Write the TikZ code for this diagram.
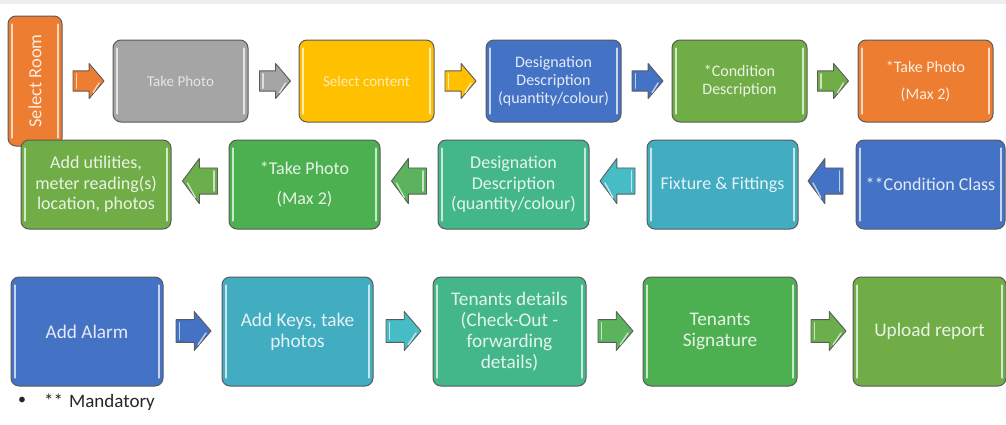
\documentclass[tikz,border=0pt]{standalone}
\usepackage{fontspec}
\setmainfont{Carlito}
\usetikzlibrary{calc}
\definecolor{cOrange}{HTML}{ED7D31}
\definecolor{cGrey}{HTML}{A5A5A5}
\definecolor{cYellow}{HTML}{FFC000}
\definecolor{cBlue}{HTML}{4472C4}
\definecolor{cGreen}{HTML}{70AD47}
\definecolor{cGreenB}{HTML}{4CAF50}
\definecolor{cSea}{HTML}{43B68A}
\definecolor{cTeal}{HTML}{42ACC1}
\definecolor{cTealA}{HTML}{46BDC6}
\definecolor{cGreenA}{HTML}{5BB35D}
\definecolor{cOlive}{HTML}{6BAE4C}
\definecolor{edge}{HTML}{5A5A5A}
\definecolor{band}{HTML}{EEEEEE}
\tikzset{
  x=1pt, y=-1pt,
  box/.style={draw=edge, line width=1pt, rounded corners=8pt, inner sep=0pt,
    align=center, text=white, text opacity=0.86},
  arrowline/.style={draw=edge, line width=0.9pt, line join=round},
  rowA/.style={font=\fontsize{16}{18}\selectfont},
  rowAs/.style={font=\fontsize{15}{18}\selectfont, text opacity=0.7},
  rowB/.style={font=\fontsize{18}{20.5}\selectfont},
  rowC/.style={font=\fontsize{19.3}{21}\selectfont},
}
% name, x1, y1, x2, y2, colour, options, text
\newcommand\mybox[8]{%
  \node[box, fill=#6, minimum width={#4-#2}, minimum height={#5-#3}, #7] (#1)
    at ({(#2+#4)/2},{(#3+#5)/2}) {#8};
  \draw[line width=2.6pt, #6!30!white, line cap=round]
    ($(#1.north west)+(4.5,9)$) -- ($(#1.south west)+(4.5,-9)$);
  \draw[line width=2.6pt, #6!30!white, line cap=round]
    ($(#1.north east)+(-4.5,9)$) -- ($(#1.south east)+(-4.5,-9)$);
}
% name, cx, cy, direction (1 right, -1 left), length, height, colour
\newcommand\barrow[7]{%
  \coordinate (#1) at (#2,#3);
  \begin{scope}[shift={(#1)}, xscale=#4]
    \draw[arrowline, fill=#7]
      ({-#5/2},{-0.29*#6}) -- ({0.02*#5},{-0.29*#6}) -- ({0.02*#5},{-#6/2})
      -- ({#5/2},0) -- ({0.02*#5},{#6/2}) -- ({0.02*#5},{0.29*#6})
      -- ({-#5/2},{0.29*#6}) -- cycle;
    \draw[line width=1.6pt, #7!35!white, line cap=round]
      ({-#5/2+3.5},{-0.29*#6+3}) -- ({-#5/2+3.5},{0.29*#6-3});
    \draw[line width=1.4pt, #7!35!white, line cap=round]
      ({0.02*#5+4},{#6/2-6}) -- ({#5/2-5},{2});
  \end{scope}
}
\begin{document}
\begin{tikzpicture}
\useasboundingbox (0,0) rectangle (1006,424);
\fill[band] (0,0) rectangle (1006,4);

% Row 1
\mybox{room}{8}{16}{62}{146}{cOrange}{}{\rotatebox{90}{\fontsize{18.5}{20}\selectfont Select Room}}
\barrow{a1}{88.5}{81}{1}{31}{35}{cOrange}
\mybox{photoA}{113}{40}{248}{122}{cGrey}{rowAs}{Take Photo}
\barrow{a2}{275}{81}{1}{31}{35}{cGrey}
\mybox{content}{299}{40}{434}{122}{cYellow}{rowAs}{Select content}
\barrow{a3}{460.5}{81}{1}{31}{35}{cYellow}
\mybox{desigA}{486}{40}{621}{122}{cBlue}{rowA}{Designation\\Description\\(quantity/colour)}
\barrow{a4}{647.5}{81}{1}{31}{35}{cBlue}
\mybox{condA}{672}{40}{807}{122}{cGreen}{rowA}{*Condition\\Description}
\barrow{a5}{833}{81}{1}{31}{35}{cGreen}
\mybox{photoB}{858}{40}{993}{122}{cOrange}{font=\fontsize{16}{27}\selectfont}{*Take Photo\\(Max 2)}

% Row 2 (right to left)
\mybox{condclass}{856}{140}{1005}{229}{cBlue}{rowB}{**Condition Class}
\barrow{b1}{825.5}{181}{-1}{35}{45}{cBlue}
\mybox{fixture}{647}{140}{798}{229}{cTeal}{rowB}{Fixture \& Fittings}
\barrow{b2}{617.5}{181}{-1}{35}{45}{cTealA}
\mybox{desigB}{438}{140}{589}{229}{cSea}{rowB}{Designation\\Description\\(quantity/colour)}
\barrow{b3}{409}{181}{-1}{35}{45}{cGreenA}
\mybox{photoC}{229}{140}{380}{229}{cGreenB}{font=\fontsize{18}{30}\selectfont}{*Take Photo\\(Max 2)}
\barrow{b4}{200}{181}{-1}{35}{45}{cOlive}
\mybox{util}{21}{140}{171}{229}{cGreen}{rowB}{Add utilities,\\meter reading(s)\\location, photos}

% Row 3
\mybox{alarm}{11}{277}{163}{386}{cBlue}{rowC}{Add Alarm}
\barrow{c1}{193.5}{331}{1}{35}{39}{cBlue}
\mybox{keys}{222}{277}{373}{386}{cTeal}{rowC}{Add Keys, take\\photos}
\barrow{c2}{403.5}{331}{1}{35}{39}{cTealA}
\mybox{tenants}{433}{277}{586}{386}{cSea}{rowC}{Tenants details\\(Check-Out -\\forwarding\\details)}
\barrow{c3}{615.5}{331}{1}{35}{39}{cGreenA}
\mybox{sign}{643}{277}{797}{386}{cGreenB}{rowC}{Tenants\\Signature}
\barrow{c4}{828.5}{331}{1}{35}{39}{cOlive}
\mybox{upload}{853}{277}{1006}{386}{cGreen}{rowC}{Upload report}

% Footnote
\node[font=\fontsize{16}{20}\selectfont, text=black!85, inner sep=0pt] (bul) at (22,401) {\textbullet};
\node[anchor=base west, font=\fontsize{19}{22}\selectfont, text=black!85, inner sep=0pt] (mand) at (44,407) {**\hspace{6pt}Mandatory};
\end{tikzpicture}
\end{document}
